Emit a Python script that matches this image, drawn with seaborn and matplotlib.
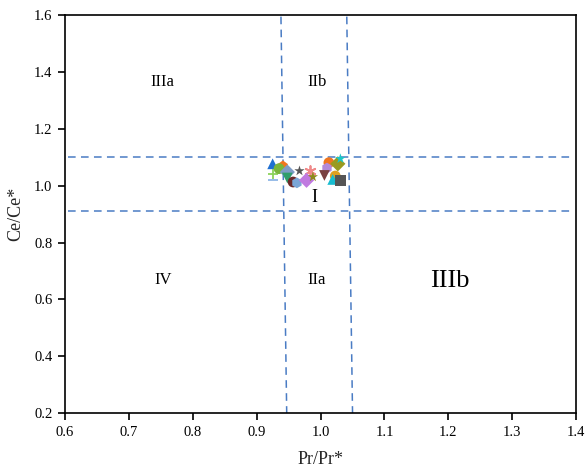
import matplotlib
matplotlib.use("Agg")
import matplotlib.pyplot as plt
import seaborn as sns

# Pr/Pr* and Ce/Ce* anomaly values per sample
pr_anom = [0.925, 0.925, 0.925, 0.941, 0.935, 0.948, 0.948, 0.957, 0.963, 0.967,
           0.983, 0.978, 0.988, 1.013, 1.010, 1.006, 1.027, 1.031, 1.023, 1.019, 1.031]
ce_anom = [1.077, 1.042, 1.020, 1.070, 1.060, 1.048, 1.027, 1.013, 1.010, 1.052,
           1.052, 1.019, 1.031, 1.081, 1.062, 1.036, 1.077, 1.095, 1.034, 1.022, 1.019]
sample_markers = ["^", "+", "_", "p", "o", "D", "v", "o", "h", "*",
                  (6, 2, 0), "D", "*", "o", "h", "v", "D", "*", "o", "^", "s"]
sample_colors = ["#1f6fd1", "#8cd35a", "#8fb6e6", "#f0761e", "#7ab53a", "#7e9cc6", "#2f9e6b",
                 "#6b2a2a", "#7aa6d6", "#555555", "#f08a8a", "#c07ae0", "#8e8a1c", "#f0761e",
                 "#b38ad8", "#7a4040", "#9a9a20", "#1cc6c6", "#e0a020", "#18bcd0", "#555555"]

# Field boundaries (dashed)
h_upper_y = [1.10, 1.10]
h_lower_y = [0.912, 0.912]
h_x = [0.605, 1.39]
v_left_x = [0.938, 0.947]
v_right_x = [1.041, 1.050]
v_y = [1.595, 0.2]

# Field labels
field_names = ["IIIa", "IIb", "IV", "IIa", "IIIb", "I"]
field_x = [0.753, 0.994, 0.753, 0.994, 1.203, 0.99]
field_y = [1.365, 1.365, 0.668, 0.668, 0.665, 0.958]
field_sizes = [12, 12, 12, 12, 19, 13]

sns.set_theme(style="ticks")
plt.rcParams["font.family"] = ["Liberation Serif", "DejaVu Serif"]

fig = plt.figure(figsize=(5.85, 4.75), dpi=100)
ax = fig.add_axes([0.111, 0.1305, 0.874, 0.8375])

dash_color = "#4a7cc4"
for xs, ys in [(h_x, h_upper_y), (h_x, h_lower_y), (v_left_x, v_y), (v_right_x, v_y)]:
    ax.plot(xs, ys, color=dash_color, lw=1.1, ls=(0, (5, 3.5)), zorder=1)

line_art = ("+", "_", (6, 2, 0))
for px, cy, m, c in zip(pr_anom, ce_anom, sample_markers, sample_colors):
    lw = 1.3 if m in line_art else 0
    sns.scatterplot(x=[px], y=[cy], marker=m, color=c, s=60, linewidth=lw,
                    edgecolor=c if lw else "none", ax=ax, zorder=3, legend=False)

for name, tx, ty, fs in zip(field_names, field_x, field_y, field_sizes):
    ax.text(tx, ty, name, fontsize=fs, ha="center", va="center", color="black")

ax.set_xlim(0.6, 1.4)
ax.set_ylim(0.2, 1.6)
ax.set_xticks([0.6, 0.7, 0.8, 0.9, 1.0, 1.1, 1.2, 1.3, 1.4])
ax.set_yticks([0.2, 0.4, 0.6, 0.8, 1.0, 1.2, 1.4, 1.6])
ax.xaxis.set_major_formatter(matplotlib.ticker.FormatStrFormatter("%.1f"))
ax.yaxis.set_major_formatter(matplotlib.ticker.FormatStrFormatter("%.1f"))
ax.tick_params(axis="both", direction="out", length=5, width=1.2, labelsize=10.5,
               colors="black", pad=4)
for sp in ax.spines.values():
    sp.set_linewidth(1.2)
    sp.set_color("black")
ax.set_xlabel("Pr/Pr*", fontsize=13, labelpad=9)
ax.set_ylabel("Ce/Ce*", fontsize=13, labelpad=7)

fig.savefig("out.png", dpi=100)
